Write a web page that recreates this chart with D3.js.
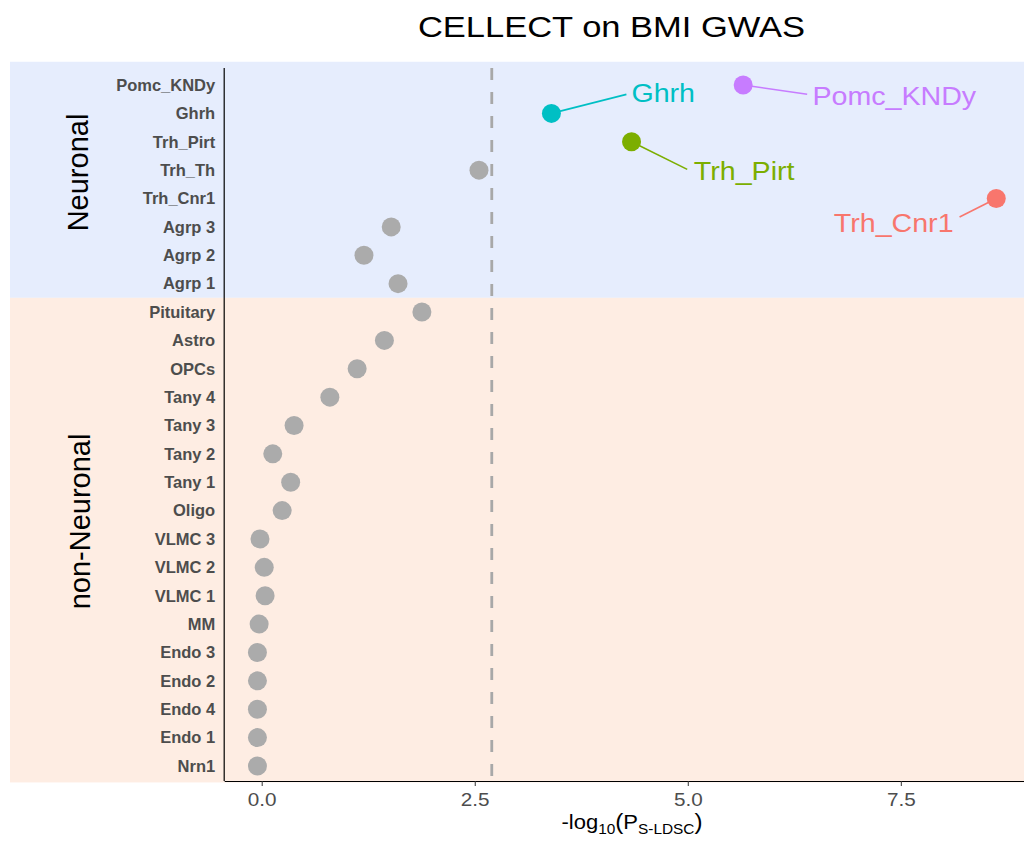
<!DOCTYPE html>
<html lang="en">
  <head>
    <meta charset="UTF-8" />
    <title>CELLECT on BMI GWAS</title>
    <script src="https://cdn.jsdelivr.net/npm/d3@7"></script>
    <style>
      body {
        margin: 0;
        background: #ffffff;
      }
      svg text {
        font-family: "Liberation Sans", Arial, sans-serif;
      }
    </style>
  </head>
  <body>
    <svg id="chart" width="1024" height="842"></svg>

    <script>
      // cell types, top to bottom
      let cellTypes = [
        "Pomc_KNDy", "Ghrh", "Trh_Pirt", "Trh_Th", "Trh_Cnr1",
        "Agrp 3", "Agrp 2", "Agrp 1",
        "Pituitary", "Astro", "OPCs", "Tany 4", "Tany 3", "Tany 2",
        "Tany 1", "Oligo", "VLMC 3", "VLMC 2", "VLMC 1", "MM",
        "Endo 3", "Endo 2", "Endo 4", "Endo 1", "Nrn1"
      ];
      // -log10(P S-LDSC)
      let logP = [
        5.65, 3.40, 4.34, 2.55, 8.62,
        1.52, 1.20, 1.60,
        1.88, 1.44, 1.12, 0.80, 0.38, 0.13,
        0.34, 0.24, -0.02, 0.03, 0.04, -0.03,
        -0.05, -0.05, -0.05, -0.05, -0.05
      ];
      let groups = ["Neuronal", "non-Neuronal"];
      let groupCounts = [8, 17];
      // significant cell types and their colours
      let highlighted = ["Trh_Cnr1", "Trh_Pirt", "Ghrh", "Pomc_KNDy"];
      let highlightColors = ["#F8766D", "#7CAE00", "#00BFC4", "#C77CFF"];
      let threshold = 2.7;
      let xTicks = [0, 2.5, 5.0, 7.5];

      // repel label placement, pixel offsets from the point
      let labelLayout = {
        Ghrh: { seg: [75, -19], text: [80, -11.6], anchor: "start" },
        Pomc_KNDy: { seg: [64, 9.3], text: [69.3, 20], anchor: "start" },
        Trh_Pirt: { seg: [55.7, 27.6], text: [62.3, 38.3], anchor: "start" },
        Trh_Cnr1: { seg: [-36.7, 18.4], text: [-42.7, 33.4], anchor: "end" }
      };

      let svg = d3.select("#chart");

      let x = d3.scaleLinear().domain([-0.44, 9.05]).range([224.2, 1032.9]);
      let y = d3.scalePoint().domain(cellTypes).range([68, 783]).padding(0.6);
      let step = y.step();
      let color = d3.scaleOrdinal().domain(highlighted).range(highlightColors);

      // background bands
      let bandColors = ["#E6EDFD", "#FEEDE3"];
      let start = 0;
      groups.forEach(function (g, i) {
        let first = cellTypes[start];
        let last = cellTypes[start + groupCounts[i] - 1];
        let top = i === 0 ? y(first) - 0.82 * step : y(first) - 0.5 * step;
        let bottom =
          i === groups.length - 1 ? y(last) + 0.58 * step : y(last) + 0.5 * step;
        svg
          .append("rect")
          .attr("x", 10)
          .attr("y", top)
          .attr("width", 1014)
          .attr("height", bottom - top)
          .attr("fill", bandColors[i]);
        svg
          .append("text")
          .attr(
            "transform",
            "translate(" + (i === 0 ? 88 : 90) + "," + (i === 0 ? 172.5 : 521.5) + ") rotate(-90)"
          )
          .attr("text-anchor", "middle")
          .style("font-size", "29px")
          .attr("fill", "#000")
          .text(g);
        start += groupCounts[i];
      });

      // threshold
      svg
        .append("line")
        .attr("x1", x(threshold))
        .attr("x2", x(threshold))
        .attr("y1", 68)
        .attr("y2", 781)
        .attr("stroke", "#A8A8A8")
        .attr("stroke-width", 2.8)
        .attr("stroke-dasharray", "12,12");

      // axes
      let xAxis = svg
        .append("g")
        .attr("transform", "translate(0,781)")
        .call(
          d3.axisBottom(x)
            .tickValues(xTicks)
            .tickFormat(d3.format(".1f"))
            .tickSize(5)
            .tickSizeOuter(0)
        );
      xAxis.select(".domain").attr("stroke", "#000").attr("stroke-width", 1.2);
      xAxis.selectAll(".tick line").attr("stroke", "#333");
      xAxis
        .selectAll(".tick text")
        .attr("y", 12)
        .attr("transform", "scale(1.15,1)")
        .attr("fill", "#4D4D4D")
        .style("font-size", "18px")
        .style("font-family", "'Liberation Sans', Arial, sans-serif");

      let yAxis = svg
        .append("g")
        .attr("transform", "translate(224.2,0)")
        .call(d3.axisLeft(y).tickSize(0).tickPadding(9));
      yAxis.select(".domain").remove();
      yAxis
        .append("line")
        .attr("y1", 68)
        .attr("y2", 781)
        .attr("stroke", "#000")
        .attr("stroke-width", 1.2);
      yAxis
        .selectAll(".tick text")
        .attr("fill", "#4D4D4D")
        .style("font-size", "16.5px")
        .style("font-weight", "bold")
        .style("font-family", "'Liberation Sans', Arial, sans-serif");

      // points
      let data = cellTypes.map(function (c, i) {
        return { name: c, value: logP[i] };
      });
      let labelled = data.filter(function (d) {
        return highlighted.indexOf(d.name) >= 0;
      });

      svg
        .selectAll(".seg")
        .data(labelled)
        .enter()
        .append("line")
        .attr("class", "seg")
        .attr("x1", (d) => x(d.value))
        .attr("y1", (d) => y(d.name))
        .attr("x2", (d) => x(d.value) + labelLayout[d.name].seg[0])
        .attr("y2", (d) => y(d.name) + labelLayout[d.name].seg[1])
        .attr("stroke", (d) => color(d.name))
        .attr("stroke-width", 1.6);

      svg
        .selectAll(".pt")
        .data(data)
        .enter()
        .append("circle")
        .attr("class", "pt")
        .attr("cx", (d) => x(d.value))
        .attr("cy", (d) => y(d.name))
        .attr("r", 9.5)
        .attr("fill", (d) =>
          highlighted.indexOf(d.name) >= 0 ? color(d.name) : "#ABABAB"
        );

      svg
        .selectAll(".lab")
        .data(labelled)
        .enter()
        .append("text")
        .attr("class", "lab")
        .attr("transform", function (d) {
          let l = labelLayout[d.name];
          return (
            "translate(" + (x(d.value) + l.text[0]) + "," + (y(d.name) + l.text[1]) + ") scale(1.1,1)"
          );
        })
        .attr("text-anchor", (d) => labelLayout[d.name].anchor)
        .attr("fill", (d) => color(d.name))
        .style("font-size", "26px")
        .text((d) => d.name);

      // title
      svg
        .append("text")
        .attr("transform", "translate(611.5,36.7) scale(1.15,1)")
        .attr("text-anchor", "middle")
        .style("font-size", "30px")
        .attr("fill", "#000")
        .text("CELLECT on BMI GWAS");

      // x axis title
      let xt = svg
        .append("text")
        .attr("transform", "translate(632,829) scale(1.1,1)")
        .attr("text-anchor", "middle")
        .attr("fill", "#000")
        .style("font-size", "20px");
      xt.append("tspan").text("-log");
      xt.append("tspan").attr("dy", 5).style("font-size", "14px").text("10");
      xt.append("tspan").attr("dy", -5).style("font-size", "22px").text("(");
      xt.append("tspan").text("P");
      xt.append("tspan").attr("dy", 5).style("font-size", "14px").text("S-LDSC");
      xt.append("tspan").attr("dy", -5).style("font-size", "22px").text(")");
    </script>
  </body>
</html>
